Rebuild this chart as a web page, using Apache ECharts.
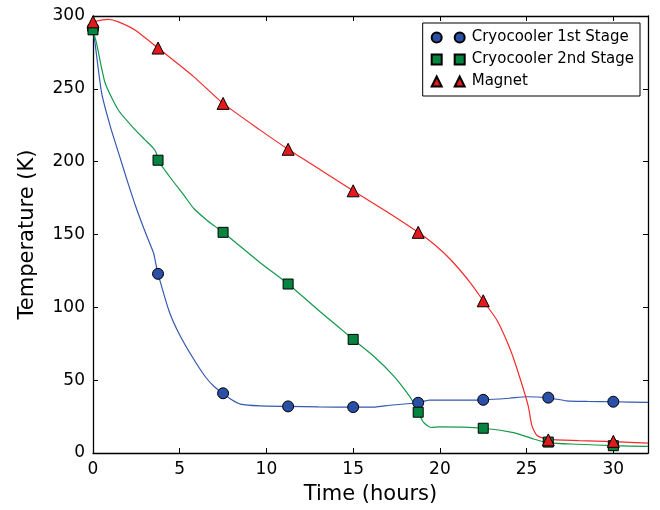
<!DOCTYPE html>
<html>
<head>
<meta charset="utf-8">
<script src="https://cdn.jsdelivr.net/npm/echarts@6/dist/echarts.min.js"></script>
<style>
html,body{margin:0;padding:0;background:#fff;}
#chart{width:660px;height:510px;}
</style>
</head>
<body>
<div id="chart"></div>
<script>
// ---- Data ----
const seriesNames = ['Cryocooler 1st Stage', 'Cryocooler 2nd Stage', 'Magnet'];
const xTicks = [0, 5, 10, 15, 20, 25, 30];
const yTicks = [0, 50, 100, 150, 200, 250, 300];

// marker samples
const markerTimes = [0, 3.75, 7.5, 11.25, 15, 18.75, 22.5, 26.25, 30];
const stage1Markers = [291, 123, 41, 32, 31.5, 34.5, 36.5, 38, 35.2];
const stage2Markers = [290.5, 201, 151.5, 116, 78, 28, 17, 7.5, 5];
const magnetMarkers = [296, 278, 240, 208.5, 180, 151.5, 104.5, 9, 8];

// continuous curves
const stage1CurveTime = [0, 0.12, 0.5, 1.0, 1.5, 2.0, 2.5, 3.0, 3.5, 3.62, 3.75, 4.4, 5.0, 5.8, 6.5, 7.0, 7.5, 8.0, 8.5, 9.6, 11.25, 13.0, 15.0, 16.2, 16.8, 18.75, 19.4, 20.5, 22.5, 24.0, 25.0, 26.25, 27.3, 28.5, 30.0, 32.0];
const stage1CurveTemp = [291, 281, 247, 224, 205, 186, 168, 152, 137, 130, 123, 97, 81, 64.5, 52, 45.5, 41, 36.5, 33.6, 32.4, 32, 31.6, 31.5, 31.5, 32.4, 34.5, 36.3, 36.3, 36.5, 37.6, 38.6, 37.9, 35.8, 35.4, 35.2, 34.7];

const stage2CurveTime = [0, 0.21, 0.7, 1.46, 2.42, 3.0, 3.5, 3.65, 3.75, 4.4, 5.3, 5.8, 6.6, 7.5, 9.6, 11.25, 13.1, 15.0, 16.17, 17.33, 18.1, 18.48, 18.75, 19.06, 19.5, 20.0, 22.5, 24.25, 25.4, 26.25, 28.0, 30.0, 32.0];
const stage2CurveTemp = [290.5, 281, 254, 235.5, 222, 215, 209, 206, 201, 190, 176, 168, 159.5, 151.5, 131, 116, 97, 78, 66.6, 53, 41.5, 34.7, 28, 21, 17.5, 18, 17, 14, 9.6, 7, 6, 5, 4.5];

const magnetCurveTime = [0, 0.4, 0.88, 1.46, 2.42, 3.75, 5.8, 7.5, 9.6, 11.25, 13.1, 15.0, 16.9, 18.75, 19.7, 20.6, 21.75, 22.5, 23.3, 24.06, 24.63, 25.1, 25.3, 25.6, 26.25, 28.0, 30.0, 32.0];
const magnetCurveTemp = [296, 297, 297.7, 296, 290.4, 278, 258.4, 240, 222, 208.5, 194.5, 180, 166, 151.5, 143, 133, 117, 104.5, 91, 71, 51, 32, 19, 12, 9.3, 8.5, 7.8, 6.8];

// ---- Styles ----
const markerColors = ['#2a4fa6', '#05843f', '#e31a1c'];
const lineColors = ['#3558b0', '#129a4a', '#f52a2a'];
const legendIcons = [
  'path://M0,5a5,5 0 1,0 10,0a5,5 0 1,0 -10,0M23,5a5,5 0 1,0 10,0a5,5 0 1,0 -10,0',
  'path://M0,0L10,0L10,10L0,10ZM23,0L33,0L33,10L23,10Z',
  'path://M5,0L10,10L0,10ZM28,0L33,10L23,10Z'
];
const markerSymbols = ['circle', 'rect', 'triangle'];
const markerSizes = [11, 10, 12];

function pairs(xs, ys) { return xs.map((x, i) => [x, ys[i]]); }

const curves = [pairs(stage1CurveTime, stage1CurveTemp), pairs(stage2CurveTime, stage2CurveTemp), pairs(magnetCurveTime, magnetCurveTemp)];
const markers = [pairs(markerTimes, stage1Markers), pairs(markerTimes, stage2Markers), pairs(markerTimes, magnetMarkers)];

const FONT = 'DejaVu Sans';

const series = [];
curves.forEach((d, i) => {
  series.push({
    type: 'line', data: d, showSymbol: false, symbol: 'none',
    smooth: 0.2,
    lineStyle: { color: lineColors[i], width: 1.2 },
    silent: true, z: 2, clip: true
  });
});
markers.forEach((d, i) => {
  series.push({
    name: seriesNames[i], type: 'scatter', data: d,
    symbol: markerSymbols[i], symbolSize: markerSizes[i],
    itemStyle: { color: markerColors[i], borderColor: '#000', borderWidth: 1, opacity: 1 },
    z: 3 + i, clip: false
  });
});

const chart = echarts.init(document.getElementById('chart'), null, { renderer: 'canvas' });
chart.setOption({
  animation: false,
  backgroundColor: '#fff',
  textStyle: { fontFamily: FONT },
  grid: { left: 93, right: 12, top: 16, bottom: 56, containLabel: false },
  legend: {
    data: seriesNames.map((n, i) => ({ name: n, icon: legendIcons[i] })),
    orient: 'vertical', right: 20, top: 23,
    itemWidth: 33, itemHeight: 10, itemGap: 7,
    padding: [7, 6, 7, 8],
    borderColor: '#000', borderWidth: 1, backgroundColor: '#fff',
    textStyle: { fontFamily: FONT, fontSize: 15, color: '#000', padding: [0, 0, 0, 2] },
    selectedMode: false
  },
  xAxis: [{
    type: 'value', min: 0, max: 32, interval: 5,
    name: 'Time (hours)', nameLocation: 'middle', nameGap: 31,
    nameTextStyle: { fontFamily: FONT, fontSize: 21, color: '#000' },
    axisLine: { show: true, lineStyle: { color: '#000', width: 1.3 } },
    axisTick: { show: true, inside: true, length: 5, lineStyle: { color: '#000' } },
    axisLabel: { fontFamily: FONT, fontSize: 17, color: '#000', margin: 8,
      formatter: v => xTicks.includes(v) ? String(v) : '' },
    splitLine: { show: false }
  }, {
    type: 'value', position: 'top', min: 0, max: 32, interval: 5,
    axisLine: { show: true, onZero: false, lineStyle: { color: '#000', width: 1.3 } },
    axisTick: { show: true, inside: true, length: 5, lineStyle: { color: '#000' } },
    axisLabel: { show: false }, splitLine: { show: false }
  }],
  yAxis: [{
    type: 'value', min: 0, max: 300, interval: 50,
    name: 'Temperature (K)', nameLocation: 'middle', nameGap: 55,
    nameTextStyle: { fontFamily: FONT, fontSize: 21, color: '#000' },
    axisLine: { show: true, lineStyle: { color: '#000', width: 1.3 } },
    axisTick: { show: true, inside: true, length: 5, lineStyle: { color: '#000' } },
    axisLabel: { fontFamily: FONT, fontSize: 17, color: '#000', margin: 8,
      formatter: v => yTicks.includes(v) ? String(v) : '' },
    splitLine: { show: false }
  }, {
    type: 'value', position: 'right', min: 0, max: 300, interval: 50,
    axisLine: { show: true, onZero: false, lineStyle: { color: '#000', width: 1.3 } },
    axisTick: { show: true, inside: true, length: 5, lineStyle: { color: '#000' } },
    axisLabel: { show: false }, splitLine: { show: false }
  }],
  series: series
});
</script>
</body>
</html>
